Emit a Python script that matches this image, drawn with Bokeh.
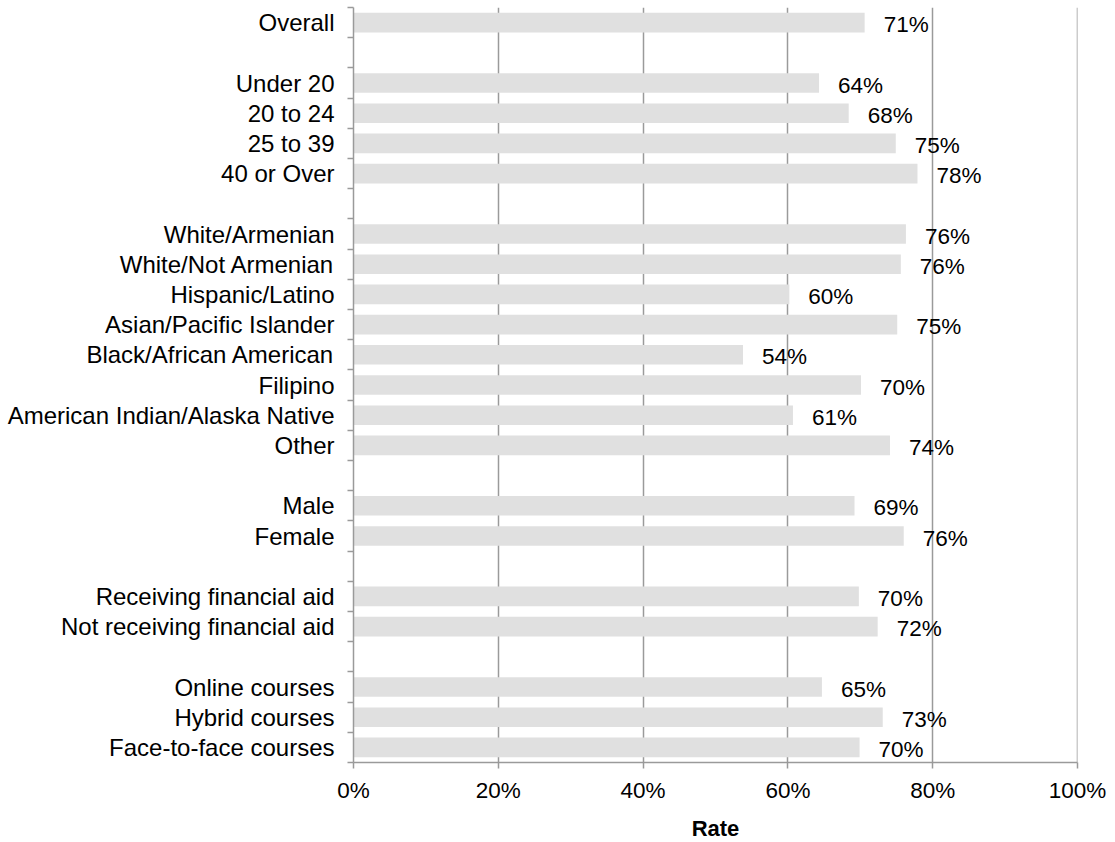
from bokeh.plotting import figure
from bokeh.models import ColumnDataSource, Range1d, FixedTicker, NumeralTickFormatter, Span
from bokeh.core.properties import value
from bokeh.embed import file_html
from bokeh.resources import INLINE

# ---- data (rates in %) ----
group_overall = ["Overall"]
rate_overall = [70.6]

group_age = ["Under 20", "20 to 24", "25 to 39", "40 or Over"]
rate_age = [64.3, 68.4, 74.9, 77.9]

group_eth = ["White/Armenian", "White/Not Armenian", "Hispanic/Latino",
             "Asian/Pacific Islander", "Black/African American", "Filipino",
             "American Indian/Alaska Native", "Other"]
rate_eth = [76.3, 75.6, 60.2, 75.1, 53.8, 70.1, 60.7, 74.1]

group_sex = ["Male", "Female"]
rate_sex = [69.2, 76.0]

group_aid = ["Receiving financial aid", "Not receiving financial aid"]
rate_aid = [69.8, 72.4]

group_mode = ["Online courses", "Hybrid courses", "Face-to-face courses"]
rate_mode = [64.7, 73.1, 69.9]

x_ticks = [0, 20, 40, 60, 80, 100]

groups = [(group_overall, rate_overall), (group_age, rate_age), (group_eth, rate_eth),
          (group_sex, rate_sex), (group_aid, rate_aid), (group_mode, rate_mode)]

# build rows (with a blank row between groups)
names, rates, ypos = [], [], []
row = 0
for gi, (cats, vals) in enumerate(groups):
    if gi > 0:
        row += 1
    for c, v in zip(cats, vals):
        names.append(c)
        rates.append(v / 100.0)
        ypos.append(row + 0.5)
        row += 1
n_rows = row

src = ColumnDataSource(dict(
    y=ypos, rate=rates, name=names,
    label=["%d%%" % round(r * 100) for r in rates],
))

FONT = "Liberation Sans"
GRID = "#9a9a9a"

p = figure(
    width=1112, height=840,
    x_range=Range1d(0, 1), y_range=Range1d(n_rows, 0),
    output_backend="svg", toolbar_location=None,
    min_border_left=353, min_border_right=35, min_border_top=7, min_border_bottom=78,
)
p.frame_height = 755
p.frame_width = 724
p.outline_line_color = None
p.background_fill_color = "white"

p.hbar(y="y", left=0, right="rate", height=0.65, source=src,
       fill_color="#e0e0e0", line_color=None)

p.text(x="rate", y="y", text="label", source=src, x_offset=19, y_offset=2,
       text_font=value(FONT), text_font_size="22.5px", text_color="black",
       text_baseline="middle", text_align="left")

# x axis
p.xaxis.ticker = FixedTicker(ticks=[t / 100 for t in x_ticks], minor_ticks=[])
p.xaxis.formatter = NumeralTickFormatter(format="0%")
p.xaxis.axis_label = "Rate"
p.xaxis.axis_label_text_font = FONT
p.xaxis.axis_label_text_font_size = "22px"
p.xaxis.axis_label_text_font_style = "bold"
p.xaxis.axis_label_text_color = "black"
p.xaxis.axis_label_standoff = 10
p.xaxis.major_label_text_font = FONT
p.xaxis.major_label_text_font_size = "22.5px"
p.xaxis.major_label_text_color = "black"
p.xaxis.major_label_standoff = 9
p.xaxis.axis_line_color = GRID
p.xaxis.axis_line_width = 1.5
p.xaxis.major_tick_line_color = GRID
p.xaxis.major_tick_line_width = 1.5
p.xaxis.major_tick_out = 6
p.xaxis.major_tick_in = 0

# y axis: labels at row centres, tick marks at row boundaries
p.yaxis.ticker = FixedTicker(ticks=ypos, minor_ticks=list(range(n_rows + 1)))
p.yaxis.major_label_overrides = {y: nm for y, nm in zip(ypos, names)}
p.yaxis.major_label_text_font = FONT
p.yaxis.major_label_text_font_size = "24px"
p.yaxis.major_label_text_color = "black"
p.yaxis.major_label_standoff = 13
p.yaxis.major_tick_out = 0
p.yaxis.major_tick_in = 0
p.yaxis.minor_tick_out = 6
p.yaxis.minor_tick_in = 0
p.yaxis.minor_tick_line_color = GRID
p.yaxis.minor_tick_line_width = 1.5
p.yaxis.axis_line_color = GRID
p.yaxis.axis_line_width = 1.5

p.xgrid.ticker = FixedTicker(ticks=[t / 100 for t in x_ticks if 0 < t < 100])
p.xgrid.grid_line_color = GRID
p.xgrid.grid_line_width = 1.5
p.ygrid.grid_line_color = None
p.add_layout(Span(location=x_ticks[-1] / 100, dimension="height",
                  line_color=GRID, line_width=1.5))

open("out.html", "w").write(file_html(p, INLINE))
